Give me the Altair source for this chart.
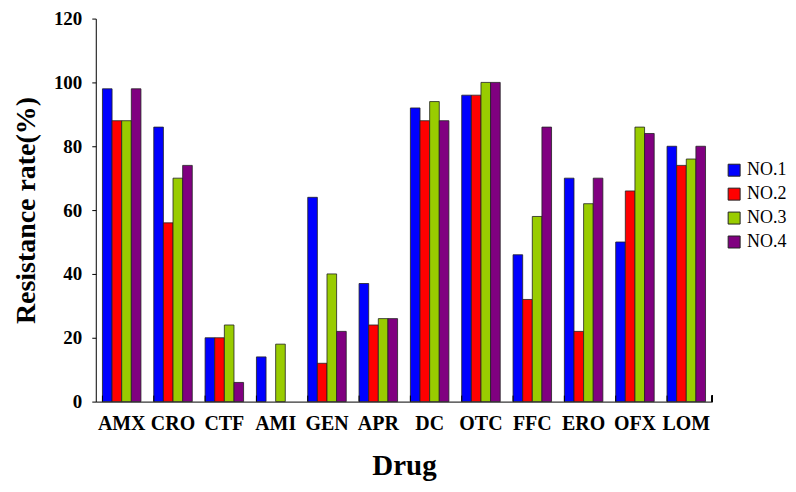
import altair as alt
import pandas as pd

drugs = ["AMX", "CRO", "CTF", "AMI", "GEN", "APR", "DC", "OTC", "FFC", "ERO", "OFX", "LOM"]
series = ["NO.1", "NO.2", "NO.3", "NO.4"]
no1 = [98, 86, 20, 14, 64, 37, 92, 96, 46, 70, 50, 80]
no2 = [88, 56, 20, 0, 12, 24, 88, 96, 32, 22, 66, 74]
no3 = [88, 70, 24, 18, 40, 26, 94, 100, 58, 62, 86, 76]
no4 = [98, 74, 6, 0, 22, 26, 88, 100, 86, 70, 84, 80]
colors = ["#0000FF", "#FF0000", "#99CC00", "#800080"]

rows = []
for s, vals in zip(series, [no1, no2, no3, no4]):
    for d, v in zip(drugs, vals):
        rows.append({"Drug": d, "Series": s, "Value": v})
df = pd.DataFrame(rows)
ticks_df = pd.DataFrame({"Drug": drugs})

FONT = "Liberation Serif"
W, H = 618, 384

xscale = alt.Scale(domain=drugs, paddingInner=0.25, paddingOuter=0.13)
xaxis = alt.Axis(labelAngle=0, labelFont=FONT, labelFontSize=20, labelFontWeight="bold",
                 labelColor="black", titleFont=FONT, titleFontSize=29, titleFontWeight="bold",
                 titleColor="black", titlePadding=18, domainColor="black", ticks=False,
                 labelPadding=12)

bars = alt.Chart(df).transform_filter("datum.Value > 0").mark_bar(
    stroke="#222222", strokeWidth=0.8).encode(
    x=alt.X("Drug:N", sort=drugs, title="Drug", scale=xscale, axis=xaxis),
    xOffset=alt.XOffset("Series:N", sort=series),
    y=alt.Y("Value:Q", title="Resistance rate(%)",
            scale=alt.Scale(domain=[0, 120], nice=False),
            axis=alt.Axis(values=[0, 20, 40, 60, 80, 100, 120], grid=False, labelFont=FONT,
                          labelFontSize=19, labelFontWeight="bold", labelColor="black",
                          titleFont=FONT, titleFontSize=28, titleFontWeight="bold", titleColor="black",
                          titlePadding=13, domainColor="black", tickColor="black", tickSize=4,
                          labelPadding=10)),
    color=alt.Color("Series:N", sort=series, scale=alt.Scale(domain=series, range=colors),
                    legend=alt.Legend(title=None, orient="none", legendX=631, legendY=143,
                                      symbolType="square", symbolSize=144, symbolStrokeColor="#222222",
                                      symbolStrokeWidth=1, labelFont=FONT, labelFontSize=18,
                                      labelColor="black", rowPadding=6, labelOffset=4)),
)

xticks = alt.Chart(ticks_df).mark_rule(color="black", strokeWidth=1).encode(
    x=alt.X("Drug:N", sort=drugs, scale=xscale, bandPosition=0, title="Drug", axis=xaxis),
    y=alt.value(H), y2=alt.value(H - 6),
)
endtick = alt.Chart(ticks_df).mark_rule(color="black", strokeWidth=1).encode(
    x=alt.value(W), y=alt.value(H), y2=alt.value(H - 6),
)

chart = alt.layer(bars, xticks, endtick).properties(
    width=W, height=H,
    autosize=alt.AutoSizeParams(type="none"),
    padding={"left": 88, "top": 10, "right": 76, "bottom": 80}
).configure(background="white").configure_view(strokeWidth=0)

chart.save("out.html", embed_options={"renderer": "svg", "actions": False})
